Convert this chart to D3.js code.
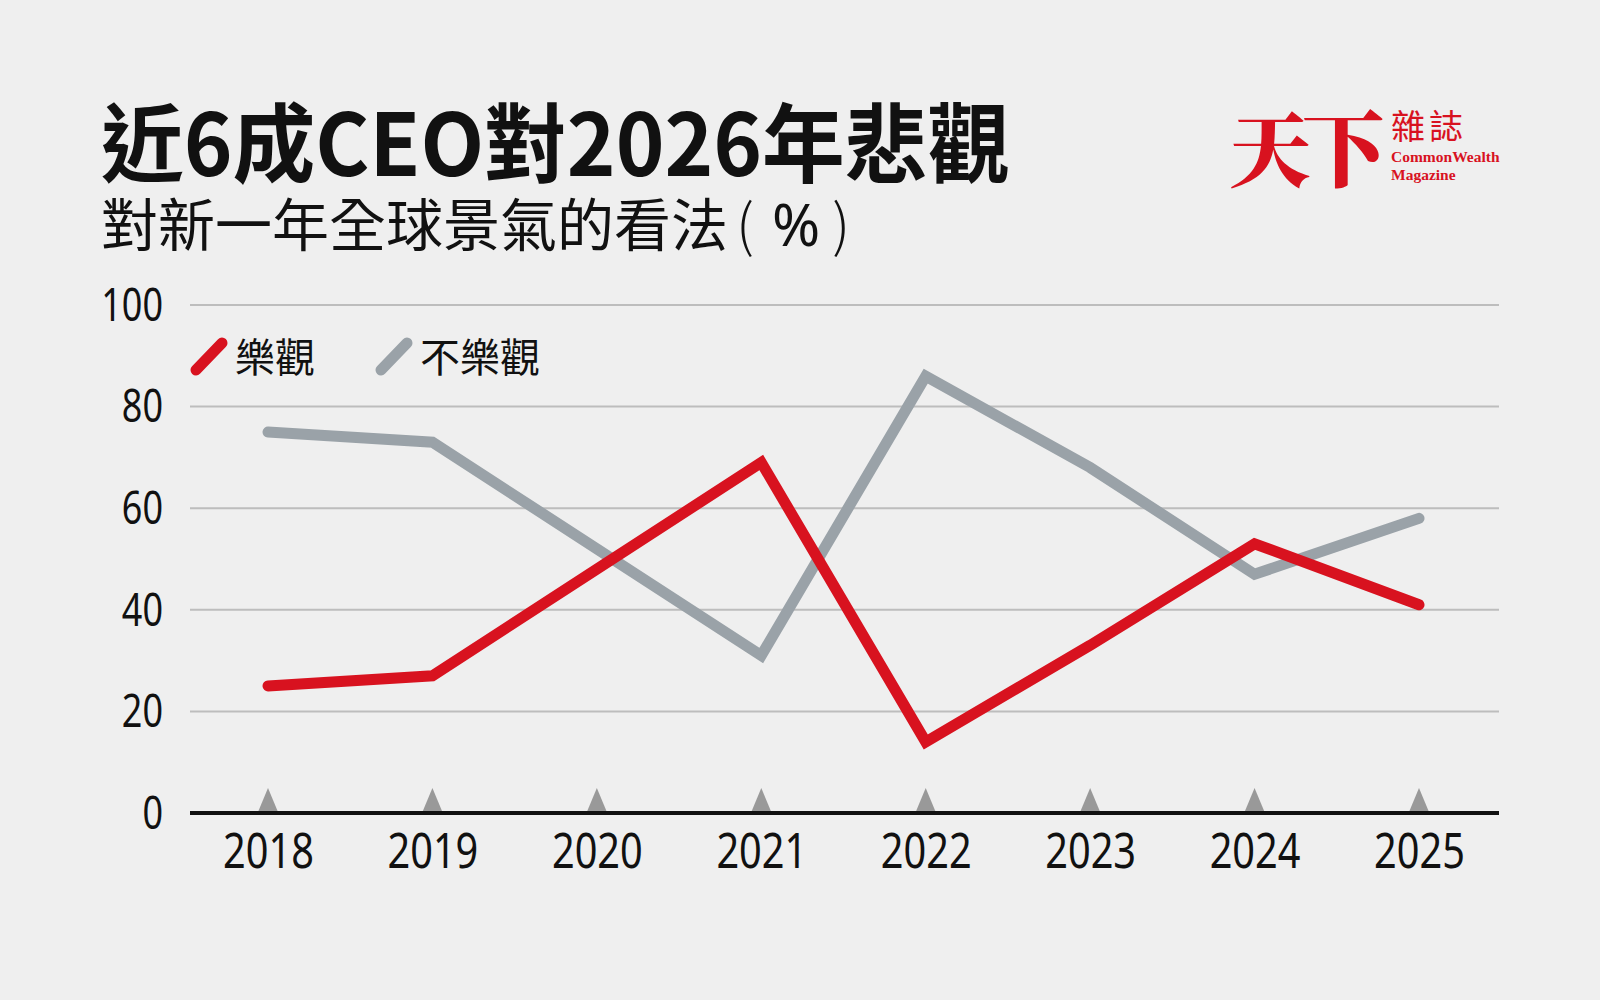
<!DOCTYPE html>
<html><head><meta charset="utf-8">
<script src="https://cdn.jsdelivr.net/npm/d3@7"></script>
<style>
html,body{margin:0;padding:0;background:#efefef;}
svg{display:block;}
</style></head>
<body>
<svg id="c" width="1600" height="1000"></svg>
<script>
const years = ["2018","2019","2020","2021","2022","2023","2024","2025"];
const optimistic = [25, 27, 48, 69, 14, 33, 53, 41];
const pessimistic = [75, 73, 52, 31, 86, 68, 47, 58];
const yTicks = [0, 20, 40, 60, 80, 100];
const seriesNames = ["樂觀", "不樂觀"];
const titleText = "近6成CEO對2026年悲觀";
const subtitleText = "對新一年全球景氣的看法";
const unitText = ["(", "%", ")"];

const RED = "#d8121f", GRAY = "#9aa2a8";
const CJK = "'Noto Sans CJK TC','Noto Sans CJK SC',sans-serif";
const NUM = "'Noto Sans','Open Sans',sans-serif";

const svg = d3.select("#c");
svg.append("rect").attr("width",1600).attr("height",1000).attr("fill","#efefef");

const x = d3.scalePoint().domain(years).range([268, 1419]);
const y = d3.scaleLinear().domain([0,100]).range([813, 305]);

// title
svg.append("text").attr("transform","translate(101,176) scale(0.962,1)")
  .attr("font-family",CJK).attr("font-weight",700).attr("font-size",86).attr("fill","#111")
  .text(titleText);
// subtitle (single text element with tspans)
const sub = svg.append("text").attr("x",101).attr("y",246)
  .attr("font-family",CJK).attr("font-size",57).attr("fill","#111");
sub.append("tspan").text(subtitleText);
sub.append("tspan").attr("dx",8).attr("font-weight",300).text(unitText[0]);
sub.append("tspan").attr("dx",18).attr("font-family",NUM).attr("font-size",58).text(unitText[1]);
sub.append("tspan").attr("dx",12).attr("font-weight",300).text(unitText[2]);

// logo
const logo = svg.append("g").attr("fill",RED);
logo.append("text").attr("x",1229).attr("y",180).attr("font-family","'Noto Serif CJK TC','Noto Sans CJK TC',serif")
  .attr("font-weight",900).attr("font-size",82).attr("letter-spacing",-9).text("天下");
logo.append("text").attr("x",1391).attr("y",139).attr("font-family",CJK)
  .attr("font-weight",400).attr("font-size",34).attr("letter-spacing",4).text("雜誌");
logo.append("text").attr("x",1391).attr("y",162).attr("font-family","'Liberation Serif','DejaVu Serif',serif")
  .attr("font-weight",700).attr("font-size",15.5).text("CommonWealth");
logo.append("text").attr("x",1391).attr("y",180).attr("font-family","'Liberation Serif','DejaVu Serif',serif")
  .attr("font-weight",700).attr("font-size",15.5).text("Magazine");

// grid
svg.append("g").selectAll("line").data(yTicks.filter(d=>d>0)).join("line")
  .attr("x1",190).attr("x2",1499).attr("y1",d=>y(d)).attr("y2",d=>y(d))
  .attr("stroke","#bdbdbd").attr("stroke-width",2);

// y axis labels
const yAxis = d3.axisLeft(y).tickValues(yTicks).tickSize(0).tickPadding(0);
const ya = svg.append("g").attr("transform","translate(163,0)").call(yAxis);
ya.select(".domain").remove();
ya.selectAll("text").attr("font-family",NUM).attr("font-size",45).attr("fill","#111")
  .attr("dy","0.34em").attr("transform","scale(0.8,1)");

// triangles
svg.append("g").selectAll("path").data(years).join("path")
  .attr("d",d=>`M${x(d)-10},812 L${x(d)},788 L${x(d)+10},812 Z`).attr("fill","#999");

// x axis
const xAxis = d3.axisBottom(x).tickSize(0).tickPadding(0);
const xa = svg.append("g").attr("transform","translate(0,813)").call(xAxis);
xa.select(".domain").remove();
xa.selectAll("text").attr("font-family",NUM).attr("font-size",49).attr("fill","#111")
  .attr("y",55).attr("dy",0).attr("transform","scale(0.81,1)");
svg.append("line").attr("x1",190).attr("x2",1499).attr("y1",813).attr("y2",813)
  .attr("stroke","#111").attr("stroke-width",4);

// lines
const line = d3.line().x((d,i)=>x(years[i])).y(d=>y(d));
svg.append("path").datum(pessimistic).attr("d",line).attr("fill","none")
  .attr("stroke",GRAY).attr("stroke-width",11).attr("stroke-linecap","round").attr("stroke-linejoin","miter");
svg.append("path").datum(optimistic).attr("d",line).attr("fill","none")
  .attr("stroke",RED).attr("stroke-width",11).attr("stroke-linecap","round").attr("stroke-linejoin","miter");

// legend
const leg = [{n:seriesNames[0],c:RED,x:196},{n:seriesNames[1],c:GRAY,x:381}];
const lg = svg.append("g").selectAll("g").data(leg).join("g");
lg.append("line").attr("x1",d=>d.x).attr("y1",370).attr("x2",d=>d.x+26).attr("y2",343)
  .attr("stroke",d=>d.c).attr("stroke-width",11).attr("stroke-linecap","round");
lg.append("text").attr("x",d=>d.x+39).attr("y",372).attr("font-family",CJK).attr("font-size",40)
  .attr("fill","#111").text(d=>d.n);
</script>
</body></html>
